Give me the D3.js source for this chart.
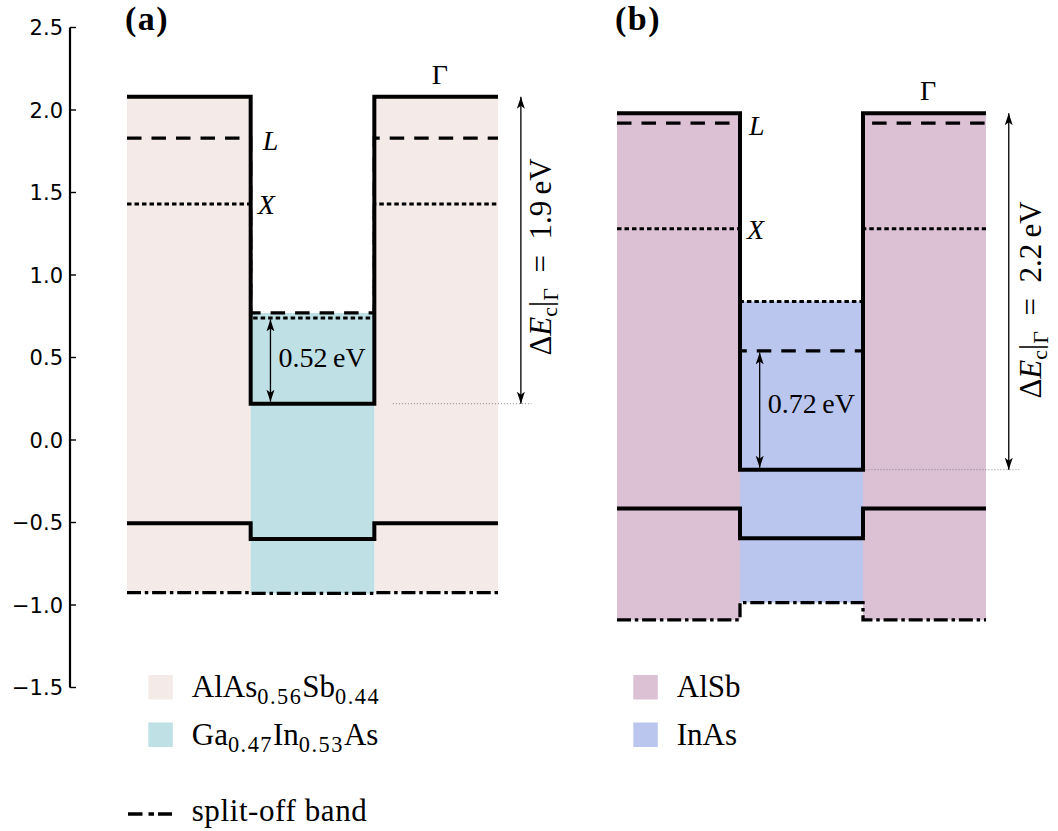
<!DOCTYPE html>
<html>
<head>
<meta charset="utf-8">
<script src="https://cdn.jsdelivr.net/npm/d3@7"></script>
<style>
  body { margin: 0; background: #fff; }
  svg { display: block; }
  .serif { font-family: "Liberation Serif", serif; }
  .sans { font-family: "DejaVu Sans", sans-serif; }
</style>
</head>
<body>
<svg id="chart" width="1058" height="831"></svg>
<script>
// Band edges in eV, given as [barrier, well]
const gammaA     = [2.08, 0.22];
const lValleyA   = [1.83, 0.77];
const xValleyA   = [1.43, 0.74];
const heavyHoleA = [-0.505, -0.60];
const splitOffA  = [-0.925, -0.93];

const gammaB     = [1.98, -0.18];
const lValleyB   = [1.92, 0.54];
const xValleyB   = [1.28, 0.84];
const heavyHoleB = [-0.415, -0.595];
const splitOffB  = [-1.09, -0.985];

const yTicks = [-1.5, -1.0, -0.5, 0.0, 0.5, 1.0, 1.5, 2.0, 2.5];
const panelLabels = ["(a)", "(b)"];
const wellGapLabels = ["0.52", "0.72"];
const offsetLabels = ["1.9", "2.2"];
const materialsA = ["AlAs_{0.56}Sb_{0.44}", "Ga_{0.47}In_{0.53}As"];
const materialsB = ["AlSb", "InAs"];
const barrierColors = ["#f4ebe8", "#dcc1d5"];
const wellColors = ["#bfe0e5", "#bac6ee"];

const svg = d3.select("#chart");

const y = d3.scaleLinear().domain([-1.5, 2.5]).range([687.5, 27.5]);

// y axis with inward ticks
const axisG = svg.append("g").attr("transform", "translate(70,0)");
axisG.append("line")
  .attr("x1", 0).attr("x2", 0)
  .attr("y1", y(2.5)).attr("y2", y(-1.5))
  .attr("stroke", "#000").attr("stroke-width", 2.2);
axisG.selectAll("line.tick").data(yTicks).join("line")
  .attr("class", "tick")
  .attr("x1", 0).attr("x2", 6)
  .attr("y1", d => y(d)).attr("y2", d => y(d))
  .attr("stroke", "#000").attr("stroke-width", 1.4);
axisG.selectAll("text.tl").data(yTicks).join("text")
  .attr("class", "tl sans")
  .attr("x", -7).attr("y", d => y(d))
  .attr("dy", "0.36em")
  .attr("text-anchor", "end")
  .style("font-size", "21px")
  .text(d => d3.format(".1f")(d).replace("-", "\u2212"));

// arrowhead markers
const defs = svg.append("defs");
function marker(id, orient) {
  defs.append("marker")
    .attr("id", id)
    .attr("viewBox", "0 -5 12 10")
    .attr("refX", 12).attr("refY", 0)
    .attr("markerWidth", 12).attr("markerHeight", 10)
    .attr("markerUnits", "userSpaceOnUse")
    .attr("orient", orient)
    .append("path")
    .attr("d", "M0,-4 L12,0 L0,4 L3,0 Z")
    .attr("fill", "#000");
}
marker("head", "auto");
marker("tail", "auto-start-reverse");

function addRich(sel, str, size) {
  // parses "X_{sub}" into baseline and subscript tspans
  const parts = str.split(/(_\{[^}]*\})/).filter(s => s.length);
  let lowered = false;
  parts.forEach(p => {
    if (p.startsWith("_{")) {
      sel.append("tspan").style("font-size", (size * 0.72) + "px")
        .style("letter-spacing", "1.5px")
        .attr("dy", lowered ? 0 : size * 0.22).text(p.slice(2, -1));
      lowered = true;
    } else {
      sel.append("tspan").style("font-size", size + "px")
        .attr("dy", lowered ? -size * 0.22 : 0).text(p);
      lowered = false;
    }
  });
}

function drawPanel(p) {
  const x = d3.scaleLinear().domain([0, 3]).range(p.range);
  const g = svg.append("g");
  const step = v => [[0, v[0]], [1, v[0]], [1, v[1]], [2, v[1]], [2, v[0]], [3, v[0]]];
  const line = d3.line().x(d => x(d[0])).y(d => y(d[1]));

  // material regions
  [[0, 1], [2, 3]].forEach(([a, b]) => {
    g.append("rect")
      .attr("x", x(a)).attr("width", x(b) - x(a))
      .attr("y", y(p.gamma[0])).attr("height", y(p.splitOff[0]) - y(p.gamma[0]))
      .attr("fill", p.barrierColor);
  });
  const wellTop = Math.max(p.gamma[1], p.lValley[1], p.xValley[1]);
  g.append("rect")
    .attr("x", x(1)).attr("width", x(2) - x(1))
    .attr("y", y(wellTop)).attr("height", y(p.splitOff[1]) - y(wellTop))
    .attr("fill", p.wellColor);

  // reference line at the well Γ edge
  g.append("line")
    .attr("x1", x(p.refStart)).attr("x2", x(3.27))
    .attr("y1", y(p.gamma[1])).attr("y2", y(p.gamma[1]))
    .attr("stroke", "#777").attr("stroke-width", 0.9)
    .attr("stroke-dasharray", "1,2");

  const band = (vals, dash, w) => g.append("path")
    .attr("d", line(step(vals)))
    .attr("fill", "none").attr("stroke", "#000")
    .attr("stroke-width", w)
    .attr("stroke-linejoin", "miter")
    .attr("stroke-dasharray", dash);
  band(p.xValley, "4.5,3", 3);
  band(p.lValley, "14.5,10", 3.3);
  band(p.splitOff, "14,3.8,3.5,3.8", 3.3);
  band(p.heavyHole, null, 4);
  band(p.gamma, null, 4);

  // Γ, L, X labels
  g.append("text").attr("class", "serif")
    .attr("x", x(2.53)).attr("y", y(p.gamma[0]) - 13)
    .attr("text-anchor", "middle").style("font-size", "28px")
    .text("\u0393");
  g.append("text").attr("class", "serif")
    .attr("x", x(1) + p.lDx).attr("y", y(p.lValley[0]) + 12)
    .style("font-style", "italic").style("font-size", "28px")
    .text("L");
  g.append("text").attr("class", "serif")
    .attr("x", x(1) + p.xDx).attr("y", y(p.xValley[0]) + 10)
    .style("font-style", "italic").style("font-size", "28px")
    .text("X");

  // well gap arrow
  const ax = x(1.16);
  g.append("line")
    .attr("x1", ax).attr("x2", ax)
    .attr("y1", y(p.wellArrowTop) + 1.5).attr("y2", y(p.gamma[1]) - 2)
    .attr("stroke", "#000").attr("stroke-width", 1.3)
    .attr("marker-start", "url(#tail)").attr("marker-end", "url(#head)");
  const midY = (y(p.wellArrowTop) + y(p.gamma[1])) / 2;
  g.append("text").attr("class", "serif")
    .attr("x", ax + 8).attr("y", midY + p.gapDy)
    .style("font-size", "28px")
    .text(p.wellGap + "\u2009eV");

  // conduction band offset arrow
  const bx = x(3.185);
  g.append("line")
    .attr("x1", bx).attr("x2", bx)
    .attr("y1", y(p.gamma[0])).attr("y2", y(p.gamma[1]))
    .attr("stroke", "#000").attr("stroke-width", 1.3)
    .attr("marker-start", "url(#tail)").attr("marker-end", "url(#head)");
  const t = g.append("text").attr("class", "serif")
    .attr("transform", `translate(${p.offX},${p.offY}) rotate(-90)`)
    .attr("text-anchor", "middle")
    .style("font-size", "31px");
  t.append("tspan").text("\u0394");
  t.append("tspan").style("font-style", "italic").text("E");
  t.append("tspan").style("font-size", "22px").attr("dy", 6).text("c");
  t.append("tspan").attr("dy", -6).text("|");
  t.append("tspan").style("font-size", "22px").attr("dy", 7).text("\u0393");
  t.append("tspan").attr("dy", -7).text("\u2002=\u2002" + p.offset + "\u2009eV");

  // panel label
  g.append("text").attr("class", "serif")
    .attr("x", p.labelX).attr("y", 30)
    .style("font-weight", "bold").style("font-size", "34px")
    .style("letter-spacing", "1.5px")
    .text(p.label);

  // legend
  p.materials.forEach((m, i) => {
    g.append("rect")
      .attr("x", p.legX).attr("y", 675 + i * 47.5)
      .attr("width", 24.5).attr("height", 24.5)
      .attr("fill", i === 0 ? p.barrierColor : p.wellColor);
    const tx = g.append("text").attr("class", "serif")
      .attr("x", p.legX + 43.5).attr("y", 697 + i * 48);
    addRich(tx, m, 31);
  });
}

drawPanel({
  range: [127, 498], gamma: gammaA, lValley: lValleyA, xValley: xValleyA,
  heavyHole: heavyHoleA, splitOff: splitOffA,
  barrierColor: barrierColors[0], wellColor: wellColors[0],
  refStart: 2.15, lDx: 12, xDx: 7, wellArrowTop: xValleyA[1], gapDy: 6,
  wellGap: wellGapLabels[0], offset: offsetLabels[0], offX: 551, offY: 257,
  label: panelLabels[0], labelX: 125, materials: materialsA, legX: 148.3
});
drawPanel({
  range: [617, 986], gamma: gammaB, lValley: lValleyB, xValley: xValleyB,
  heavyHole: heavyHoleB, splitOff: splitOffB,
  barrierColor: barrierColors[1], wellColor: wellColors[1],
  refStart: 2.02, lDx: 9, xDx: 7, wellArrowTop: lValleyB[1], gapDy: 3,
  wellGap: wellGapLabels[1], offset: offsetLabels[1], offX: 1041, offY: 300,
  label: panelLabels[1], labelX: 615, materials: materialsB, legX: 633.3
});

// split-off band legend entry
svg.append("line")
  .attr("x1", 128).attr("x2", 172).attr("y1", 814).attr("y2", 814)
  .attr("stroke", "#000").attr("stroke-width", 3.3)
  .attr("stroke-dasharray", "14.5,6,5.5,4");
svg.append("text").attr("class", "serif")
  .attr("x", 191.7).attr("y", 820.5)
  .style("font-size", "31px").style("letter-spacing", "0.6px")
  .text("split-off band");
</script>
</body>
</html>
